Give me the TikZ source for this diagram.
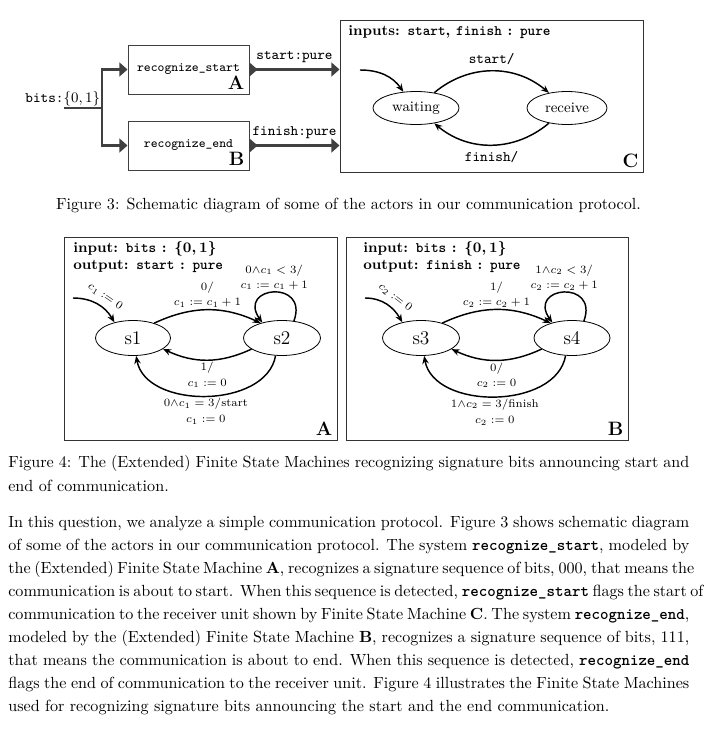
\documentclass[tikz,border=0pt]{standalone}
\usepackage{amsmath}
\usepackage{tikz}
\usetikzlibrary{arrows, arrows.meta, calc, positioning, shapes}

\newlength\unitpx
\setlength\unitpx{0.62pt}
\newcommand{\cod}[1]{{\ttfamily\bfseries #1}}

\begin{document}
\begin{tikzpicture}[x=\unitpx, y=-\unitpx]

	\tikzstyle{bloque}=[rectangle, draw=black!75, line width=0.6pt, inner sep=0pt, font=\footnotesize\ttfamily]
	\tikzstyle{marco}=[rectangle, draw=black!80, line width=0.6pt, inner sep=0pt]
	\tikzstyle{estado}=[ellipse, draw, line width=0.5pt, inner sep=0pt]
	\tikzstyle{trans}=[-{Stealth[length=5pt, width=4pt]}, line width=0.9pt]
	\tikzstyle{senal}=[draw=black!75, line width=1.4pt, -{Triangle[length=5pt, width=8.5pt]}]
	\tikzstyle{puerto}=[{Triangle[reversed, length=5pt, width=8.5pt]}-{Triangle[length=5pt, width=8.5pt]}]
	\tikzstyle{etiq}=[font=\scriptsize, align=center, inner sep=1pt]
	\tikzstyle{cabecera}=[anchor=north west, font=\small\bfseries, align=left, inner sep=0pt]
	\tikzstyle{letra}=[font=\large\bfseries, anchor=south east, inner sep=3pt]
	\tikzstyle{linea}=[anchor=base west, inner sep=0pt]

	\useasboundingbox (0,0) rectangle (712,742);

	\coordinate (c_recA) at (188.5, 69.5); % FIGURA 3
	\coordinate (c_recB) at (188.5, 145.5); % FIGURA 3
	\coordinate (c_fsmC) at (491.5, 96); % FIGURA 3
	\coordinate (c_wait) at (416, 108); % MAQUINA C
	\coordinate (c_recv) at (567, 108); % MAQUINA C
	\coordinate (bits_in) at (64, 108);
	\coordinate (bits_split) at (102, 108);
	\coordinate (ini_C) at (360, 70);

	\coordinate (c_fsmA) at (200.5, 338.5); % FIGURA 4
	\coordinate (c_fsmB) at (487, 338.5); % FIGURA 4
	\coordinate (c_s1) at (133, 338); % MAQUINA A
	\coordinate (c_s2) at (282, 338); % MAQUINA A
	\coordinate (c_s3) at (421, 338); % MAQUINA B
	\coordinate (c_s4) at (572, 338); % MAQUINA B
	\coordinate (ini_A) at (73, 298);
	\coordinate (ini_B) at (365, 298);

	% FIGURA 3
	\node[bloque, minimum width=121*\unitpx, minimum height=49*\unitpx] (recA) at (c_recA) {recognize\_start};
	\node[bloque, minimum width=121*\unitpx, minimum height=49*\unitpx] (recB) at (c_recB) {recognize\_end};
	\node[letra] at (recA.south east) {A};
	\node[letra] at (recB.south east) {B};
	\node[marco, minimum width=303*\unitpx, minimum height=152*\unitpx] (fsmC) at (c_fsmC) {};
	\node[letra] at (fsmC.south east) {C};
	\node[anchor=south east, font=\small, inner sep=1pt] at (bits_split) {\texttt{bits:}$\{0,1\}$};

	\draw[senal, -] (bits_in) -- (bits_split);
	\draw[senal] (bits_split) |- (recA.west);
	\draw[senal] (bits_split) |- (recB.west);
	\draw[senal, puerto] (recA.east) -- node[above, font=\small\ttfamily] {start:pure} (recA.east -| fsmC.west);
	\draw[senal, puerto] (recB.east) -- node[above, font=\small\ttfamily] {finish:pure} (recB.east -| fsmC.west);

	\node[anchor=west, font=\small\bfseries, inner sep=0pt] at (348, 32) {inputs: \texttt{start}, \texttt{finish} : \texttt{pure}};
	\node[estado, minimum width=86*\unitpx, minimum height=33*\unitpx, font=\small] (waiting) at (c_wait) {waiting};
	\node[estado, minimum width=80*\unitpx, minimum height=33*\unitpx, font=\small] (receive) at (c_recv) {receive};

	\draw[trans] (ini_C) to[out=0, in=125] (waiting.128);
	\draw[trans] (waiting) to[bend left=40] node[above, font=\small\ttfamily] {start/} (receive);
	\draw[trans] (receive) to[bend left=40] node[below, font=\small\ttfamily] {finish/} (waiting);

	\node[anchor=base] at (348.5, 209) {Figure 3: Schematic diagram of some of the actors in our communication protocol.};

	% FIGURA 4 - MAQUINA A
	\node[marco, minimum width=273*\unitpx, minimum height=203*\unitpx] (fsmA) at (c_fsmA) {};
	\node[letra] at (fsmA.south east) {A};
	\node[cabecera] at (73, 241) {input: \texttt{bits} : {\boldmath$\{0,1\}$}\\output: \texttt{start} : \texttt{pure}};
	\node[estado, minimum width=75*\unitpx, minimum height=35*\unitpx, font=\large] (s1) at (c_s1) {s1};
	\node[estado, minimum width=77*\unitpx, minimum height=35*\unitpx, font=\large] (s2) at (c_s2) {s2};

	\draw[trans] (ini_A) to[out=0, in=120] node[pos=0.55, sloped, above=2.5pt, etiq] {$c_1 := 0$} (s1.140);
	\draw[trans] (s1.35) to[bend left=25] node[above, etiq] {$0/$\\[1.5pt]$c_1 := c_1 + 1$} (s2.145);
	\draw[trans] (s2.55) to[out=70, in=125, looseness=3.6] node[above, etiq] {$0{\wedge}c_1 < 3/$\\[1.5pt]$c_1 := c_1 + 1$} (s2.142);
	\draw[trans] (s2.200) to[bend left=25] node[below, etiq] {$1/$\\[1.5pt]$c_1 := 0$} (s1.-20);
	\draw[trans] (s2.250) to[out=260, in=280] node[below, etiq] {$0{\wedge}c_1 = 3/$start\\[2pt]$c_1 := 0$} (s1.280);

	% FIGURA 4 - MAQUINA B
	\node[marco, minimum width=282*\unitpx, minimum height=203*\unitpx] (fsmB) at (c_fsmB) {};
	\node[letra] at (fsmB.south east) {B};
	\node[cabecera] at (363, 241) {input: \texttt{bits} : {\boldmath$\{0,1\}$}\\output: \texttt{finish} : \texttt{pure}};
	\node[estado, minimum width=77*\unitpx, minimum height=35*\unitpx, font=\large] (s3) at (c_s3) {s3};
	\node[estado, minimum width=76*\unitpx, minimum height=35*\unitpx, font=\large] (s4) at (c_s4) {s4};

	\draw[trans] (ini_B) to[out=0, in=120] node[pos=0.55, sloped, above=2.5pt, etiq] {$c_2 := 0$} (s3.140);
	\draw[trans] (s3.35) to[bend left=25] node[above, etiq] {$1/$\\[1.5pt]$c_2 := c_2 + 1$} (s4.145);
	\draw[trans] (s4.55) to[out=70, in=125, looseness=3.6] node[above, etiq] {$1{\wedge}c_2 < 3/$\\[1.5pt]$c_2 := c_2 + 1$} (s4.142);
	\draw[trans] (s4.200) to[bend left=25] node[below, etiq] {$0/$\\[1.5pt]$c_2 := 0$} (s3.-20);
	\draw[trans] (s4.250) to[out=260, in=280] node[below, etiq] {$1{\wedge}c_2 = 3/$finish\\[2pt]$c_2 := 0$} (s3.280);

	% TEXTO
	\node[linea] at (8, 467) {\makebox[681\unitpx][s]{Figure 4: The (Extended) Finite State Machines recognizing signature bits announcing start and}};
	\node[linea] at (8, 491) {end of communication.};

	\node[linea] at (8, 527) {\makebox[681\unitpx][s]{In this question, we analyze a simple communication protocol. Figure 3 shows schematic diagram}};
	\node[linea] at (8, 550) {\makebox[681\unitpx][s]{of some of the actors in our communication protocol. The system \cod{recognize\_start}, modeled by}};
	\node[linea] at (8, 573) {\makebox[681\unitpx][s]{the (Extended) Finite State Machine \textbf{A}, recognizes a signature sequence of bits, 000, that means the}};
	\node[linea] at (8, 596) {\makebox[681\unitpx][s]{communication is about to start. When this sequence is detected, \cod{recognize\_start} flags the start of}};
	\node[linea] at (8, 619) {\makebox[681\unitpx][s]{communication to the receiver unit shown by Finite State Machine \textbf{C}. The system \cod{recognize\_end},}};
	\node[linea] at (8, 642) {\makebox[681\unitpx][s]{modeled by the (Extended) Finite State Machine \textbf{B}, recognizes a signature sequence of bits, 111,}};
	\node[linea] at (8, 665) {\makebox[681\unitpx][s]{that means the communication is about to end. When this sequence is detected, \cod{recognize\_end}}};
	\node[linea] at (8, 688) {\makebox[681\unitpx][s]{flags the end of communication to the receiver unit. Figure 4 illustrates the Finite State Machines}};
	\node[linea] at (8, 711) {used for recognizing signature bits announcing the start and the end communication.};

\end{tikzpicture}
\end{document}
